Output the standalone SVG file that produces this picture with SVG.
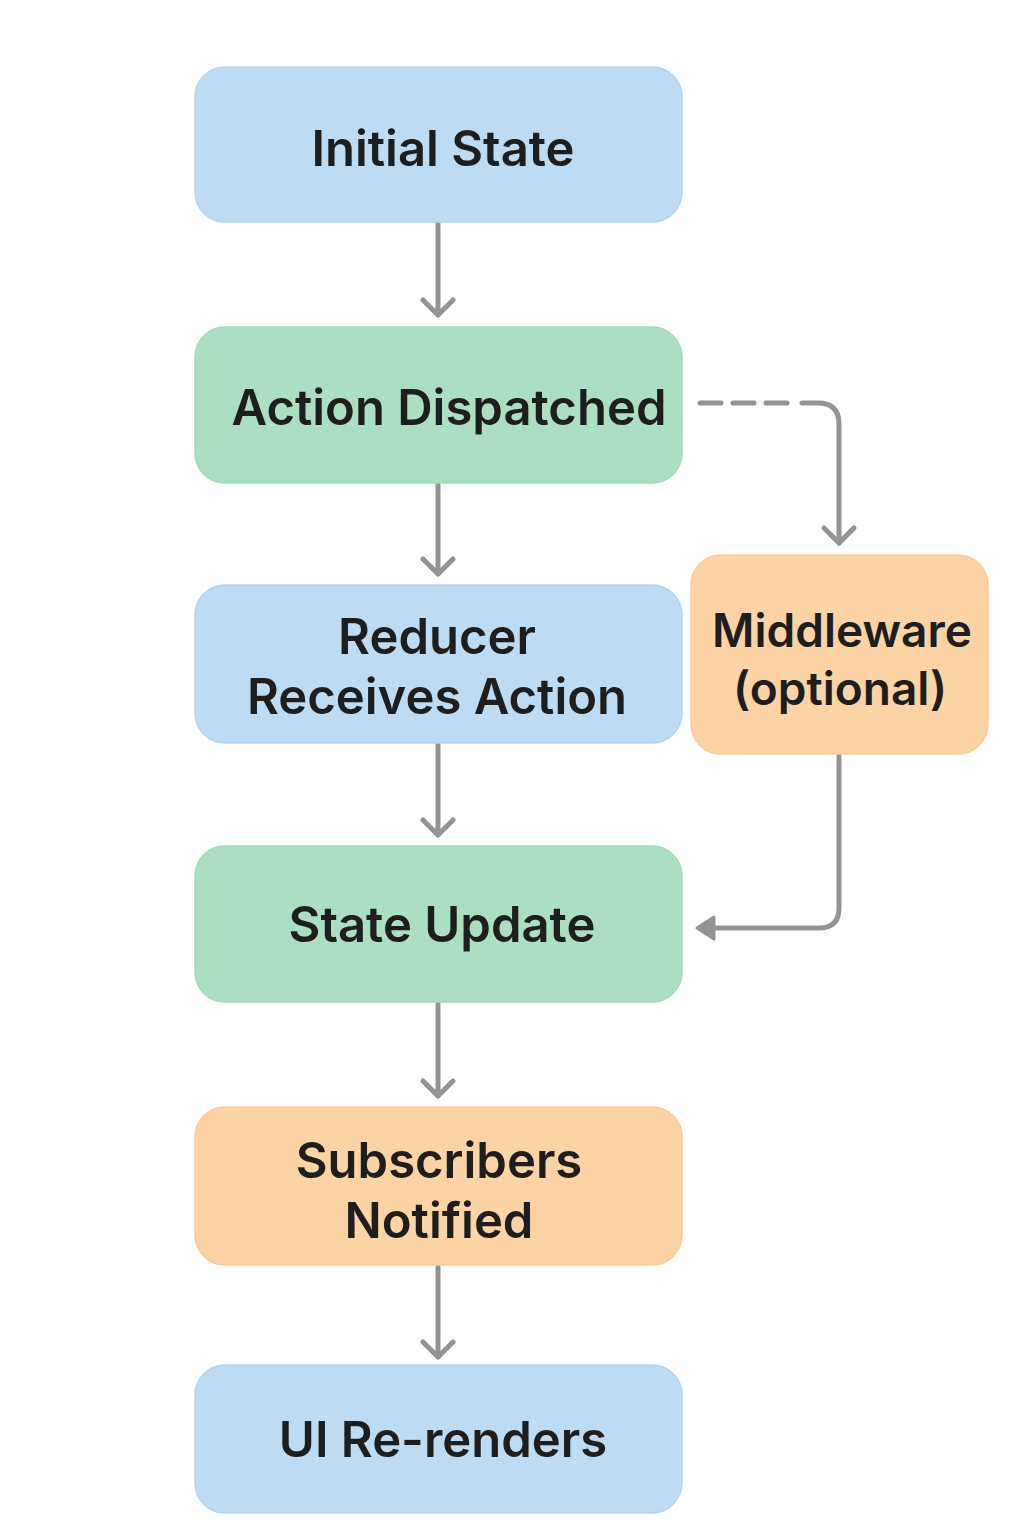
<svg xmlns="http://www.w3.org/2000/svg" width="1024" height="1536" viewBox="0 0 1024 1536">
<defs>
<style>
.t{font-family:Inter,"Noto Sans","Liberation Sans",sans-serif;font-weight:600;font-size:49px;fill:#1e1e1e;text-anchor:middle}
.s{font-size:46px}
.blue{fill:#bddbf2;stroke:#b3d5f0;stroke-width:1.5}
.green{fill:#acdfc2;stroke:#a3dbbb;stroke-width:1.5}
.orange{fill:#fcd3a4;stroke:#f9cc98;stroke-width:1.5}
.c{fill:none;stroke:#939393;stroke-width:5;stroke-linecap:round;stroke-linejoin:round}
</style>
</defs>
<rect width="1024" height="1536" fill="#fefefe"/>
<g id="connectors">
<path class="c" d="M438 224 V315 M423 300 L438 315 L453 300"/>
<path class="c" d="M438 485 V574 M423 559 L438 574 L453 559"/>
<path class="c" d="M438 745 V835 M423 820 L438 835 L453 820"/>
<path class="c" d="M438 1004 V1096 M423 1081 L438 1096 L453 1081"/>
<path class="c" d="M438 1267 V1357 M423 1342 L438 1357 L453 1342"/>
<path class="c" d="M700 403 H792" stroke-dasharray="21 12"/>
<path class="c" d="M802 403 H818 Q839 403 839 424 V543"/>
<path class="c" d="M824 528 L839 543 L854 528"/>
<path class="c" d="M839 756 V908 Q839 928 819 928 H712"/>
<path d="M697 928 L714 917 L714 939 Z" fill="#939393" stroke="#939393" stroke-width="3" stroke-linejoin="round"/>
</g>
<g id="initial-state">
<rect class="blue" x="195" y="67" width="487" height="155" rx="30"/>
<text class="t" x="443" y="166">Initial State</text>
</g>
<g id="action-dispatched">
<rect class="green" x="195" y="327" width="487" height="156" rx="30"/>
<text class="t" x="449" y="425">Action Dispatched</text>
</g>
<g id="reducer">
<rect class="blue" x="195" y="585" width="487" height="158" rx="30"/>
<text class="t" x="437" y="654">Reducer</text>
<text class="t" x="437" y="714">Receives Action</text>
</g>
<g id="middleware">
<rect class="orange" x="691" y="555" width="297" height="199" rx="30"/>
<text class="t s" x="842" y="647">Middleware</text>
<text class="t s" x="840" y="705">(optional)</text>
</g>
<g id="state-update">
<rect class="green" x="195" y="846" width="487" height="156" rx="30"/>
<text class="t" x="442" y="942">State Update</text>
</g>
<g id="subscribers">
<rect class="orange" x="195" y="1107" width="487" height="158" rx="30"/>
<text class="t" x="439" y="1178">Subscribers</text>
<text class="t" x="439" y="1238">Notified</text>
</g>
<g id="ui-rerenders">
<rect class="blue" x="195" y="1365" width="487" height="148" rx="30"/>
<text class="t" x="443" y="1457">UI Re-renders</text>
</g>
</svg>
